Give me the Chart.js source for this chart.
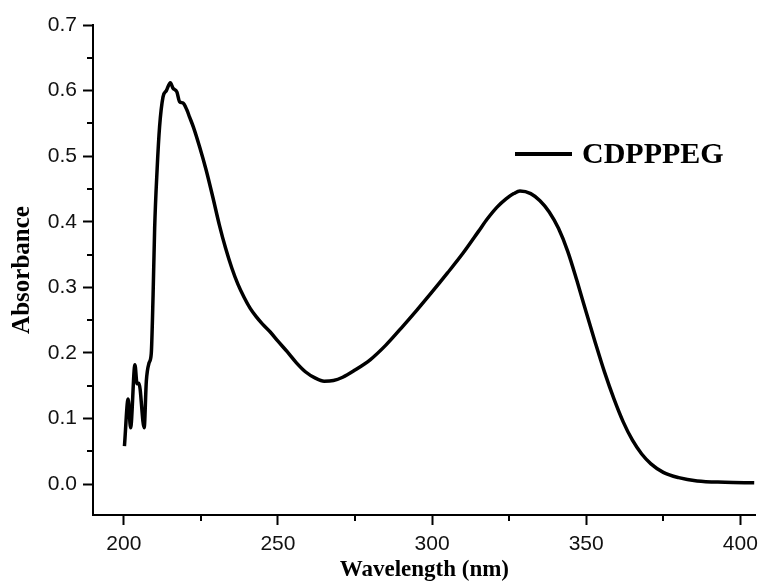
<!DOCTYPE html>
<html>
<head>
<meta charset="utf-8">
<script src="https://cdn.jsdelivr.net/npm/chart.js@4/dist/chart.umd.min.js"></script>
<style>
html,body{margin:0;padding:0;background:#fff;}
#wrap{width:765px;height:585px;position:relative;}
</style>
</head>
<body>
<div id="wrap"><canvas id="c" width="765" height="585"></canvas></div>
<script>
const seriesName = "CDPPPEG";
const wavelengths = [200.2, 201.4, 202.2, 203.6, 204.3, 204.9, 206.6, 207.3, 208.2, 208.9, 209.5, 210.0, 210.8, 211.6, 212.7, 213.8, 215.1, 215.9, 217.2, 218.1, 219.2, 220.5, 221.3, 222.6, 224.6, 226.7, 228.9, 231.0, 233, 235, 237, 239, 241, 243, 245, 247.5, 250, 253, 256, 259, 262, 265, 268, 271, 275, 280, 285, 290, 295, 300, 305, 310, 315, 318, 321, 324, 326.5, 328.5, 332, 335, 338, 341, 344, 347, 350, 353, 356, 359, 362, 365, 368, 371, 375, 380, 386, 395, 404.5];
const absorbance = [0.058, 0.13, 0.086, 0.182, 0.153, 0.154, 0.086, 0.157, 0.185, 0.199, 0.29, 0.39, 0.48, 0.545, 0.59, 0.60, 0.612, 0.604, 0.598, 0.583, 0.581, 0.57, 0.56, 0.544, 0.514, 0.479, 0.437, 0.395, 0.36, 0.33, 0.305, 0.285, 0.268, 0.255, 0.244, 0.232, 0.218, 0.202, 0.185, 0.171, 0.162, 0.157, 0.158, 0.163, 0.174, 0.19, 0.212, 0.238, 0.265, 0.293, 0.322, 0.352, 0.385, 0.405, 0.422, 0.435, 0.443, 0.447, 0.443, 0.432, 0.415, 0.39, 0.355, 0.31, 0.262, 0.215, 0.17, 0.13, 0.095, 0.067, 0.046, 0.031, 0.018, 0.010, 0.005, 0.003, 0.002];
const xMajorTicks = [200, 250, 300, 350, 400];
const xMinorTicks = [225, 275, 325, 375];
const yMajorTicks = [0.0, 0.1, 0.2, 0.3, 0.4, 0.5, 0.6, 0.7];
const yMinorTicks = [0.05, 0.15, 0.25, 0.35, 0.45, 0.55, 0.65];

const points = wavelengths.map((w, i) => ({x: w, y: absorbance[i]}));

const minorTickPlugin = {
  id: 'minorTicks',
  afterDraw(chart) {
    const ctx = chart.ctx;
    const xs = chart.scales.x, ys = chart.scales.y;
    ctx.save();
    ctx.strokeStyle = '#000';
    ctx.lineWidth = 2;
    ctx.beginPath();
    yMinorTicks.forEach(v => {
      const py = Math.round(ys.getPixelForValue(v));
      ctx.moveTo(xs.left - 6, py);
      ctx.lineTo(xs.left, py);
    });
    xMinorTicks.forEach(v => {
      const px = Math.round(xs.getPixelForValue(v));
      ctx.moveTo(px, ys.bottom);
      ctx.lineTo(px, ys.bottom + 6);
    });
    ctx.stroke();
    ctx.restore();
  }
};

const legendPlugin = {
  id: 'insideLegend',
  afterDraw(chart) {
    const ctx = chart.ctx;
    const area = chart.chartArea;
    const ly = area.top + 129;
    const lx = area.left + 422;
    ctx.save();
    ctx.strokeStyle = '#000';
    ctx.lineWidth = 4;
    ctx.beginPath();
    ctx.moveTo(lx, ly);
    ctx.lineTo(lx + 57, ly);
    ctx.stroke();
    ctx.fillStyle = '#000';
    ctx.font = 'bold 30px "Liberation Serif", "Times New Roman", serif';
    ctx.textBaseline = 'middle';
    ctx.textAlign = 'left';
    ctx.fillText(seriesName, lx + 67, ly + 1);
    ctx.restore();
  }
};

new Chart(document.getElementById('c'), {
  type: 'line',
  data: {
    datasets: [{
      label: seriesName,
      data: points,
      borderColor: '#000',
      borderWidth: 3.5,
      pointRadius: 0,
      fill: false,
      cubicInterpolationMode: 'monotone'
    }]
  },
  options: {
    responsive: false,
    animation: false,
    layout: {padding: {top: 25, right: 6, left: 0, bottom: 0}},
    plugins: {legend: {display: false}, tooltip: {enabled: false}},
    scales: {
      x: {
        type: 'linear',
        min: 190,
        max: 405,
        afterBuildTicks: s => { s.ticks = xMajorTicks.map(v => ({value: v})); },
        afterFit: s => { s.height = 70; },
        border: {display: true, color: '#000', width: 2},
        grid: {display: true, drawOnChartArea: false, drawTicks: true, tickLength: 10, tickWidth: 2, tickColor: '#000'},
        ticks: {
          color: '#111',
          padding: 7,
          maxRotation: 0,
          font: {family: '"Liberation Sans", Arial, sans-serif', size: 21},
          callback: v => String(v)
        },
        title: {
          display: true,
          text: 'Wavelength (nm)',
          color: '#000',
          padding: {top: 0, bottom: 1},
          font: {family: '"Liberation Serif", "Times New Roman", serif', size: 23, weight: 'bold'}
        }
      },
      y: {
        type: 'linear',
        min: -0.047,
        max: 0.7,
        afterBuildTicks: s => { s.ticks = yMajorTicks.map(v => ({value: v})); },
        afterFit: s => { s.width = 93; },
        border: {display: true, color: '#000', width: 2},
        grid: {display: true, drawOnChartArea: false, drawTicks: true, tickLength: 10, tickWidth: 2, tickColor: '#000'},
        ticks: {
          color: '#111',
          padding: 6,
          font: {family: '"Liberation Sans", Arial, sans-serif', size: 21},
          callback: v => Number(v).toFixed(1)
        },
        title: {
          display: true,
          text: 'Absorbance',
          color: '#000',
          padding: {top: 8, bottom: 0},
          font: {family: '"Liberation Serif", "Times New Roman", serif', size: 25, weight: 'bold'}
        }
      }
    }
  },
  plugins: [minorTickPlugin, legendPlugin]
});
</script>
</body>
</html>
